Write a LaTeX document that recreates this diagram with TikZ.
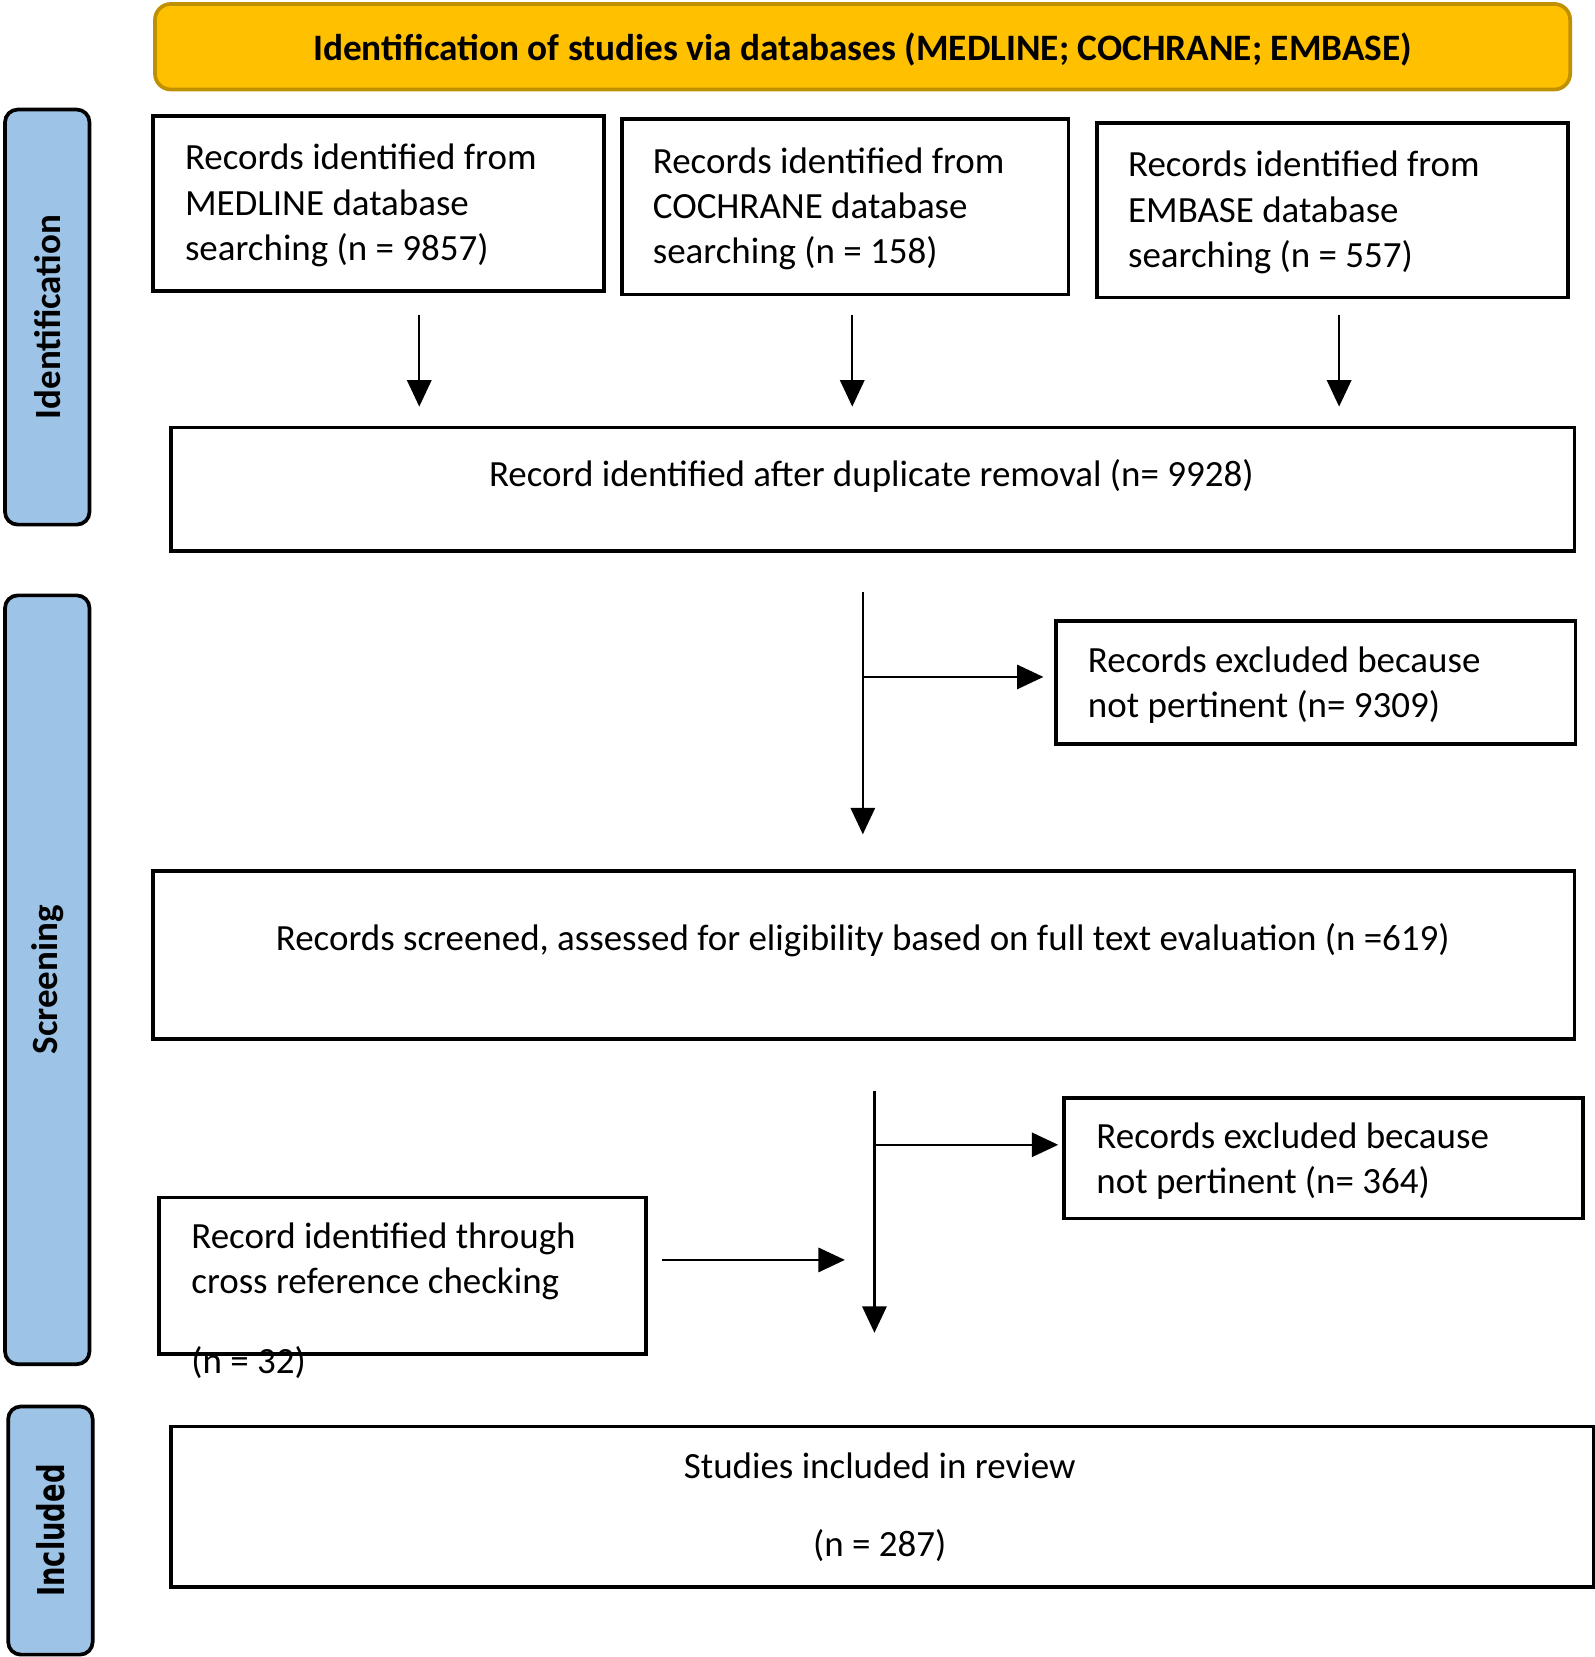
\documentclass[tikz,border=0pt]{standalone}
\usepackage{fontspec}
\usepackage{graphicx}
\setmainfont{Carlito}
\newfontfamily\incfont{DejaVu Sans}
\usetikzlibrary{arrows.meta}
\definecolor{sideblue}{HTML}{9DC3E6}
\definecolor{goldfill}{HTML}{FFC000}
\definecolor{golddark}{HTML}{BF9000}
\begin{document}
\begin{tikzpicture}[x=1pt,y=-1pt,
  box/.style={draw=black, line width=3.5pt, fill=white, inner sep=0pt, anchor=north west},
  txt/.style={inner sep=0pt, align=left, font=\fontsize{35}{43}\selectfont},
  ctxt/.style={inner sep=0pt, align=center, font=\fontsize{35}{43}\selectfont},
  side/.style={draw=black, line width=3.5pt, fill=sideblue, rounded corners=12pt, anchor=north west, inner sep=0pt, minimum width=80pt},
  sidetxt/.style={rotate=90, inner sep=0pt, font=\bfseries\fontsize{35}{43}\selectfont},
  arr/.style={line width=2pt, -{Triangle[length=25pt,width=23pt]}},
  ln/.style={line width=2pt}]
\useasboundingbox (0,0) rectangle (1510,1569);
% title
\node[draw=golddark, fill=goldfill, line width=3.5pt, rounded corners=15pt, minimum width=1340pt, minimum height=81pt, anchor=north west, inner sep=0pt] (title) at (145,2) {};
\node[inner sep=0pt, font=\bfseries\fontsize{35.3}{43}\selectfont] (titlet) at ([yshift=-2.5pt]title.center) {Identification of studies via databases (MEDLINE; COCHRANE; EMBASE)};
% side labels
\node[side, minimum height=393pt] (sid) at (3,102) {};
\node[sidetxt] (sidt) at (sid.center) {Identification};
\node[side, minimum height=728pt] (scr) at (3,562) {};
\node[sidetxt] (scrt) at (scr.center) {Screening};
\node[side, minimum height=235pt] (inc) at (6,1330) {};
\node[rotate=90, inner sep=0pt, font=\incfont\bfseries\fontsize{35}{43}\selectfont] (inct) at (inc.center) {\scalebox{0.74}[1]{Included}};
% database boxes
\node[box, minimum width=427pt, minimum height=166pt] (b1) at (143,108) {};
\node[txt, anchor=west] (b1t) at ([xshift=32pt,yshift=-2pt]b1.west) {Records identified from\\MEDLINE database\\searching (n = 9857)};
\node[box, minimum width=423pt, minimum height=166pt] (b2) at (587,111) {};
\node[txt, anchor=west] (b2t) at ([xshift=31pt,yshift=-2pt]b2.west) {Records identified from\\COCHRANE database\\searching (n = 158)};
\node[box, minimum width=446pt, minimum height=165pt] (b3) at (1037,115) {};
\node[txt, anchor=west] (b3t) at ([xshift=31pt,yshift=-2pt]b3.west) {Records identified from\\EMBASE database\\searching (n = 557)};
% arrows to dup
\coordinate (a1s) at (397,298); \coordinate (a1e) at (397,385);
\coordinate (a2s) at (807,298); \coordinate (a2e) at (807,385);
\coordinate (a3s) at (1268,298); \coordinate (a3e) at (1268,385);
\draw[arr] (a1s) -- (a1e);
\draw[arr] (a2s) -- (a2e);
\draw[arr] (a3s) -- (a3e);
% dup box
\node[box, minimum width=1329pt, minimum height=117pt] (dup) at (160,403) {};
\node[ctxt] (dupt) at (825,450.5) {Record identified after duplicate removal (n= 9928)};
% screening arrows
\coordinate (v1s) at (817,561); \coordinate (v1e) at (817,790);
\coordinate (h1s) at (817,641); \coordinate (h1e) at (988,641);
\draw[arr] (v1s) -- (v1e);
\draw[arr] (h1s) -- (h1e);
% excluded 1
\node[box, minimum width=492pt, minimum height=117pt] (ex1) at (998,586) {};
\node[txt, anchor=west] (ex1t) at ([xshift=32pt,yshift=-2.5pt]ex1.west) {Records excluded because\\not pertinent (n= 9309)};
% screened
\node[box, minimum width=1346pt, minimum height=159pt] (scb) at (143,823) {};
\node[ctxt] (scbt) at (817,890.5) {Records screened, assessed for eligibility based on full text evaluation (n =619)};
% second stage arrows
\coordinate (v2s) at (828,1033); \coordinate (v2e) at (828,1262);
\coordinate (h2s) at (828,1084); \coordinate (h2e) at (1002,1084);
\draw[arr] (v2s) -- (v2e);
\draw[arr] (h2s) -- (h2e);
% excluded 2
\node[box, minimum width=491pt, minimum height=114pt] (ex2) at (1006,1038) {};
\node[txt, anchor=west] (ex2t) at ([xshift=32pt,yshift=-2.5pt]ex2.west) {Records excluded because\\not pertinent (n= 364)};
% cross reference
\node[box, minimum width=461pt, minimum height=148pt] (cr) at (149,1132) {};
\node[txt, anchor=west] (crt) at (181,1231.5) {Record identified through\\cross reference checking\\[32pt](n = 32)};
\coordinate (c1s) at (627,1193); \coordinate (c1e) at (800,1193);
\draw[arr] (c1s) -- (c1e);
% included
\node[box, minimum width=1347pt, minimum height=152pt] (inb) at (160,1349) {};
\node[ctxt] (inbt) at (833,1427.5) {Studies included in review\\[31pt](n = 287)};
\end{tikzpicture}
\end{document}
